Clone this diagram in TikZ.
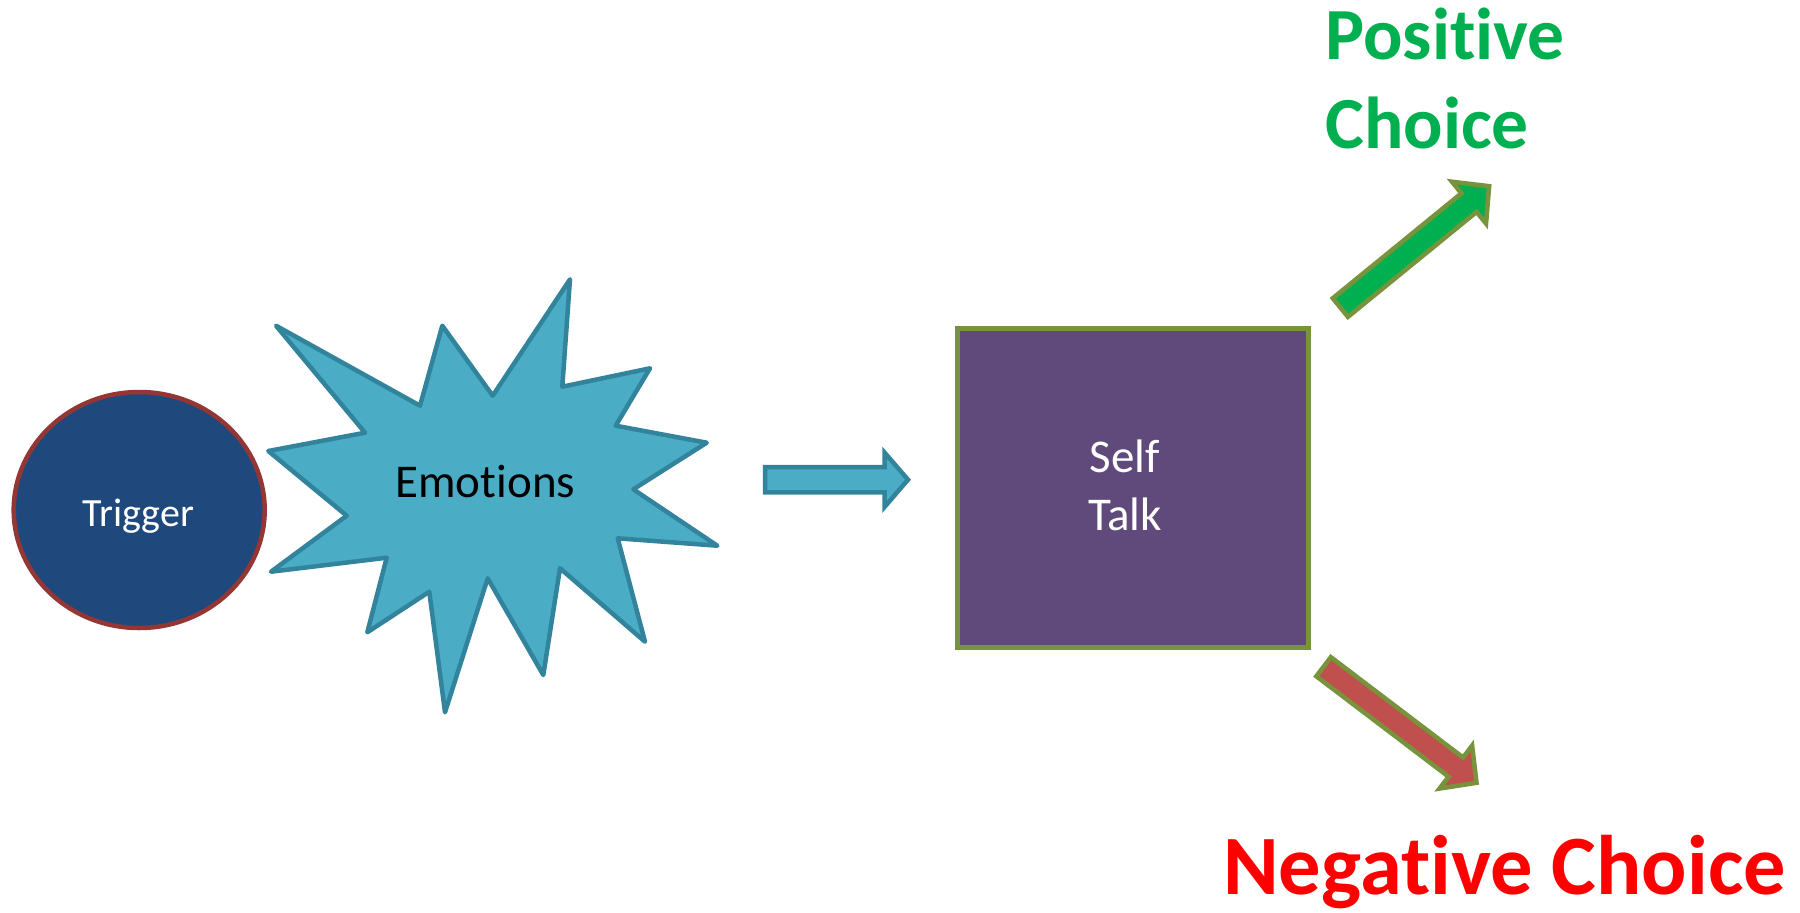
\documentclass[tikz,border=0pt]{standalone}
\usepackage{fontspec}
\setmainfont[Ligatures=NoCommon]{Carlito}
\usetikzlibrary{shapes.geometric}
\definecolor{trigfill}{HTML}{1F497D}
\definecolor{trigline}{HTML}{943634}
\definecolor{aqfill}{HTML}{4BACC6}
\definecolor{aqline}{HTML}{31849B}
\definecolor{stfill}{HTML}{604A7B}
\definecolor{olive}{HTML}{77933C}
\definecolor{posgreen}{HTML}{00B050}
\definecolor{negred}{HTML}{C0504D}
\definecolor{negtext}{HTML}{FF0000}
\tikzset{
  trigbox/.style={ellipse, draw=trigline, fill=trigfill, line width=4.5pt, minimum width=251pt, minimum height=236pt, inner sep=0pt},
  talkbox/.style={rectangle, draw=olive, fill=stfill, line width=5pt, minimum width=350.5pt, minimum height=319pt, inner sep=0pt},
  starshape/.style={draw=aqline, fill=aqfill, line width=4.5pt, line join=round},
  blockarrow/.style={line width=4.5pt, line join=miter},
  lbl/.style={inner sep=0pt, anchor=base},
  choice/.style={inner sep=0pt, anchor=base west, font=\fontsize{73.5}{88}\selectfont\bfseries, text=posgreen}
}
\begin{document}
\begin{tikzpicture}[x=1pt,y=-1pt]
\useasboundingbox (0,0) rectangle (1800,913);
% Trigger
\node[trigbox] (trigger) at (139.2,510) {};
\node[lbl, text=white, font=\fontsize{40}{48}\selectfont] (triggertxt) at (138.5,526.7) {Trigger};
% Emotions star
\draw[starshape] (276,325.7) -- (420,405.7) -- (442.3,325.7) -- (492.7,395.7) -- (570,279.3) -- (562.3,386.7) -- (650,368.3) -- (615.7,425.7) -- (706.7,442.7) -- (633.3,489.3) -- (717.3,545.7) -- (617.7,538.3) -- (645,641.7) -- (560,568.3) -- (543.3,675) -- (487.7,578.3) -- (445,712.3) -- (429.3,591.7) -- (367.3,632.3) -- (386.7,557.7) -- (271,571.7) -- (346.7,515.7) -- (268.3,451) -- (365,432.7) -- cycle;
\node[lbl, text=black, font=\fontsize{47}{57}\selectfont] (emotions) at (485.3,497.3) {Emotions};
% blue block arrow
\draw[blockarrow, draw=aqline, fill=aqfill] (765,467) -- (884.5,467) -- (884.5,452.5) -- (908,479.7) -- (884.5,507) -- (884.5,492.3) -- (765,492.3) -- cycle;
% Self Talk
\node[talkbox] (selftalk) at (1132.75,488) {};
\node[lbl, text=white, font=\fontsize{47}{57}\selectfont] (selfA) at (1125,472.3) {Self};
\node[lbl, text=white, font=\fontsize{47}{57}\selectfont] (selfB) at (1125,530) {Talk};
% green arrow
\begin{scope}[shift={(1338.8,308.8)}, rotate=39.2]
\draw[blockarrow, draw=olive, fill=posgreen] (2,-12) -- (168,-12) -- (168,-27) -- (194,0) -- (168,27) -- (168,12) -- (2,12) -- cycle;
\end{scope}
% red arrow
\begin{scope}[shift={(1322,665.5)}, rotate=-37.2]
\draw[blockarrow, draw=olive, fill=negred] (2,-12) -- (168,-12) -- (168,-27) -- (194,0) -- (168,27) -- (168,12) -- (2,12) -- cycle;
\end{scope}
% labels
\node[choice] (posA) at (1325,59.5) {Positive};
\node[choice] (posB) at (1325,148) {Choice};
\node[choice, text=negtext, font=\fontsize{84.5}{100}\selectfont\bfseries] (neg) at (1223,894.5) {Negative Choice};
\end{tikzpicture}
\end{document}
